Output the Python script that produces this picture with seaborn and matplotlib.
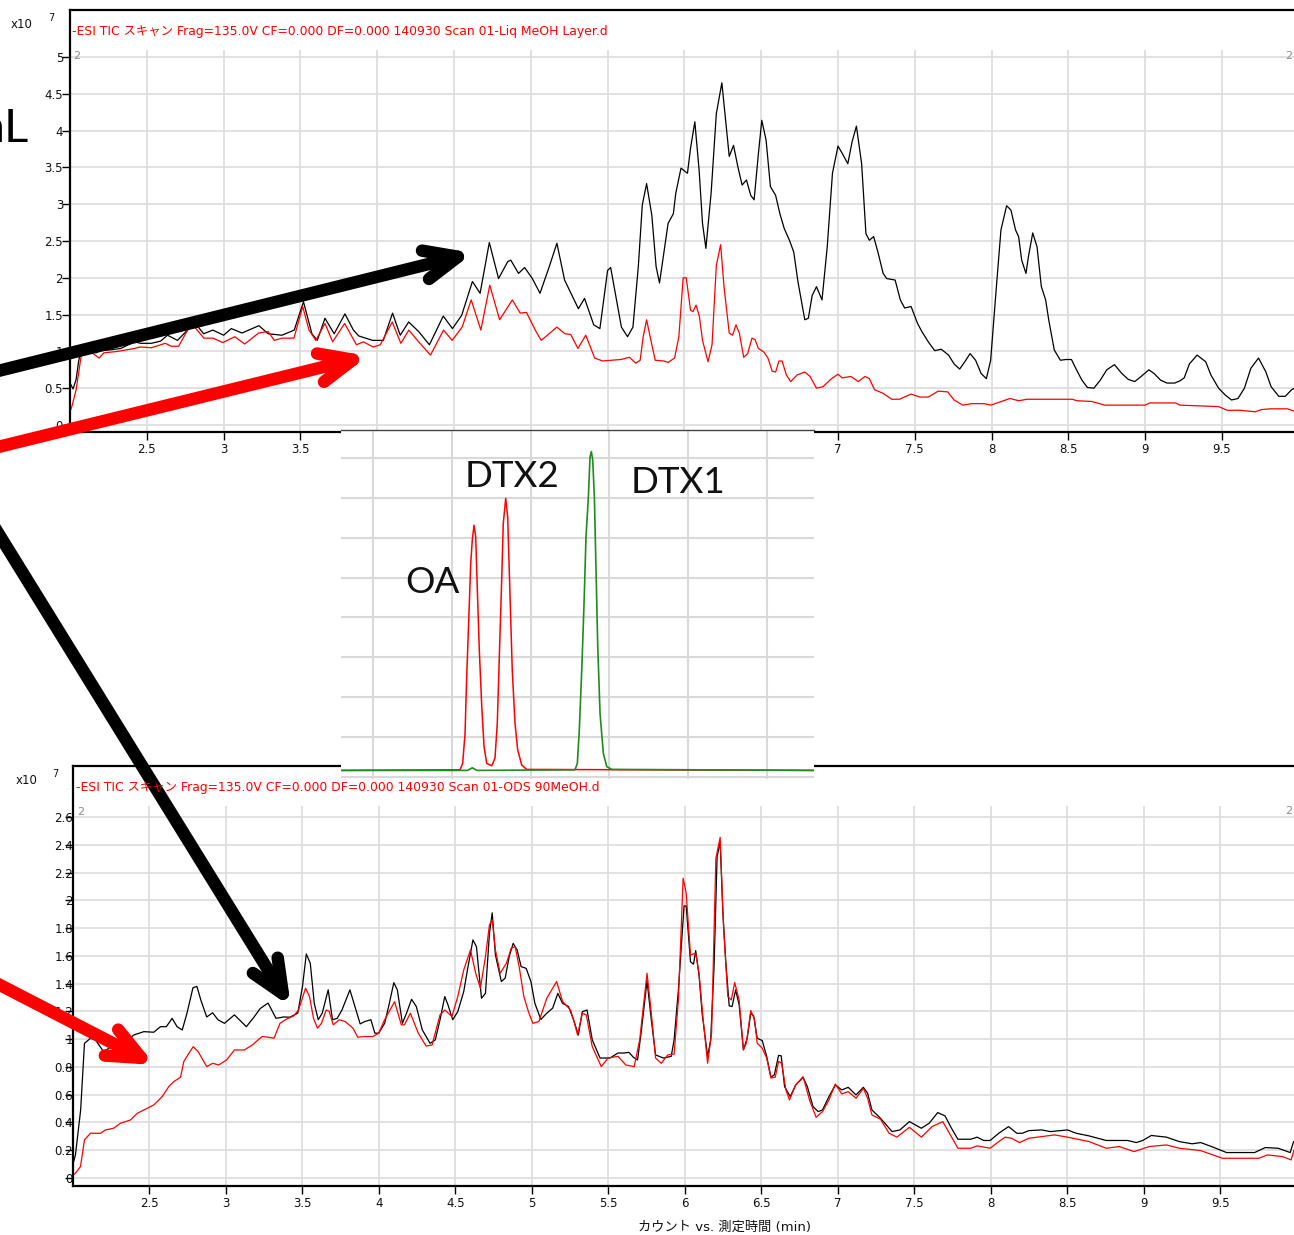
import numpy as np
import pandas as pd
import matplotlib
matplotlib.use("Agg")
import matplotlib.pyplot as plt
from matplotlib.patches import FancyArrowPatch, ArrowStyle
import seaborn as sns

# ---------------- data ----------------
x_ticks = [2.5, 3, 3.5, 4, 4.5, 5, 5.5, 6, 6.5, 7, 7.5, 8, 8.5, 9, 9.5]
x_tick_labels = ["2.5", "3", "3.5", "4", "4.5", "5", "5.5", "6", "6.5", "7", "7.5", "8", "8.5", "9", "9.5"]

liq_yticks = [0, 0.5, 1, 1.5, 2, 2.5, 3, 3.5, 4, 4.5, 5]
liq_ylabels = ["0", "0.5", "1", "1.5", "2", "2.5", "3", "3.5", "4", "4.5", "5"]
ods_yticks = [0, 0.2, 0.4, 0.6, 0.8, 1.0, 1.2, 1.4, 1.6, 1.8, 2.0, 2.2, 2.4, 2.6]
ods_ylabels = ["0", "0.2", "0.4", "0.6", "0.8", "1", "1.2", "1.4", "1.6", "1.8", "2", "2.2", "2.4", "2.6"]

liq_title = "-ESI TIC スキャン Frag=135.0V CF=0.000 DF=0.000 140930 Scan 01-Liq MeOH Layer.d"
ods_title = "-ESI TIC スキャン Frag=135.0V CF=0.000 DF=0.000 140930 Scan 01-ODS 90MeOH.d"
x_axis_label = "カウント vs. 測定時間 (min)"

# Liq MeOH layer, TIC (x10^7 counts)
liq_black_time = [2.0, 2.005, 2.02, 2.04, 2.055, 2.07, 2.13, 2.17, 2.19, 2.26, 2.33, 2.42, 2.46, 2.53, 2.59,
                  2.635, 2.70, 2.765, 2.79, 2.87, 2.93, 3.0, 3.05, 3.12, 3.23, 3.29, 3.38, 3.46, 3.52, 3.575,
                  3.61, 3.66, 3.72, 3.79, 3.845, 3.88, 3.97, 4.04, 4.10, 4.15, 4.205, 4.27, 4.34, 4.43, 4.49,
                  4.55, 4.62, 4.67, 4.73, 4.79, 4.85, 4.87, 4.92, 4.96, 5.01, 5.06, 5.12, 5.17, 5.22, 5.31,
                  5.35, 5.41, 5.45, 5.50, 5.52, 5.59, 5.63, 5.665, 5.70, 5.726, 5.754, 5.788, 5.816, 5.838,
                  5.866, 5.894, 5.928, 5.944, 5.978, 6.02, 6.04, 6.068, 6.096, 6.118, 6.14, 6.174, 6.208,
                  6.244, 6.266, 6.292, 6.32, 6.348, 6.376, 6.404, 6.432, 6.454, 6.482, 6.504, 6.532, 6.56,
                  6.594, 6.622, 6.65, 6.684, 6.712, 6.74, 6.784, 6.807, 6.832, 6.86, 6.896, 6.93, 6.964,
                  7.0, 7.028, 7.064, 7.092, 7.12, 7.154, 7.182, 7.204, 7.232, 7.26, 7.294, 7.317, 7.372,
                  7.406, 7.434, 7.476, 7.518, 7.546, 7.588, 7.63, 7.672, 7.72, 7.756, 7.792, 7.826, 7.86,
                  7.896, 7.932, 7.966, 7.994, 8.028, 8.061, 8.098, 8.126, 8.156, 8.176, 8.196, 8.224, 8.24,
                  8.268, 8.296, 8.324, 8.352, 8.372, 8.408, 8.448, 8.484, 8.52, 8.548, 8.588, 8.624, 8.666,
                  8.708, 8.75, 8.80, 8.848, 8.89, 8.932, 8.974, 9.024, 9.058, 9.10, 9.142, 9.192, 9.226,
                  9.254, 9.288, 9.338, 9.394, 9.428, 9.478, 9.52, 9.562, 9.604, 9.646, 9.688, 9.738, 9.786,
                  9.82, 9.87, 9.912, 9.954, 9.98]
liq_black_tic = [0.57, 0.55, 0.49, 0.62, 0.85, 1.02, 1.02, 0.98, 1.01, 1.02, 1.04, 1.13, 1.11, 1.11, 1.14,
                 1.22, 1.15, 1.29, 1.45, 1.24, 1.29, 1.22, 1.31, 1.25, 1.35, 1.24, 1.22, 1.29, 1.675, 1.24,
                 1.15, 1.45, 1.24, 1.51, 1.29, 1.21, 1.15, 1.15, 1.52, 1.22, 1.40, 1.27, 1.09, 1.48, 1.31,
                 1.49, 1.95, 1.79, 2.48, 1.99, 2.22, 2.24, 2.06, 2.14, 1.99, 1.79, 2.15, 2.47, 1.97, 1.58,
                 1.72, 1.36, 1.31, 2.10, 2.14, 1.33, 1.20, 1.33, 2.15, 2.99, 3.28, 2.85, 2.15, 1.93,
                 2.33, 2.74, 2.87, 3.15, 3.49, 3.42, 3.76, 4.12, 3.46, 2.74, 2.40, 3.15, 4.23,
                 4.65, 4.19, 3.65, 3.80, 3.51, 3.26, 3.33, 3.12, 3.06, 3.69, 4.14, 3.87, 3.24,
                 3.12, 2.87, 2.67, 2.51, 2.35, 1.94, 1.43, 1.45, 1.76, 1.88, 1.70, 2.42, 3.42,
                 3.79, 3.69, 3.55, 3.85, 4.06, 3.55, 2.60, 2.51, 2.56, 2.35, 2.06, 1.99, 1.97,
                 1.70, 1.59, 1.61, 1.38, 1.27, 1.13, 1.01, 1.03, 0.95, 0.83, 0.76, 0.86, 0.97,
                 0.88, 0.70, 0.63, 0.88, 1.79, 2.65, 2.98, 2.92, 2.65, 2.56, 2.24, 2.06, 2.29,
                 2.61, 2.42, 1.88, 1.70, 1.43, 1.02, 0.88, 0.89, 0.89, 0.77, 0.61, 0.51, 0.50,
                 0.61, 0.75, 0.82, 0.70, 0.62, 0.59, 0.66, 0.75, 0.70, 0.61, 0.57, 0.57, 0.60,
                 0.64, 0.83, 0.95, 0.86, 0.68, 0.50, 0.41, 0.34, 0.36, 0.50, 0.77, 0.91, 0.72,
                 0.52, 0.39, 0.39, 0.48, 0.51]

liq_red_time = [2.0, 2.012, 2.04, 2.077, 2.13, 2.19, 2.22, 2.31, 2.42, 2.455, 2.53, 2.62, 2.66, 2.707, 2.79,
                2.828, 2.872, 2.931, 2.995, 3.073, 3.137, 3.228, 3.29, 3.33, 3.38, 3.458, 3.515, 3.556, 3.60,
                3.66, 3.71, 3.788, 3.865, 3.91, 3.974, 4.02, 4.098, 4.154, 4.206, 4.27, 4.347, 4.432, 4.488,
                4.553, 4.612, 4.675, 4.733, 4.797, 4.88, 4.931, 4.972, 5.029, 5.068, 5.17, 5.222, 5.26,
                5.307, 5.358, 5.416, 5.467, 5.53, 5.586, 5.642, 5.684, 5.712, 5.732, 5.754, 5.782, 5.81,
                5.866, 5.894, 5.936, 5.964, 5.992, 6.012, 6.04, 6.056, 6.076, 6.098, 6.118, 6.154, 6.18,
                6.208, 6.236, 6.258, 6.292, 6.314, 6.336, 6.358, 6.386, 6.412, 6.44, 6.46, 6.482, 6.518,
                6.544, 6.572, 6.594, 6.616, 6.636, 6.664, 6.692, 6.734, 6.784, 6.818, 6.86, 6.902, 6.958,
                7.0, 7.028, 7.084, 7.132, 7.176, 7.204, 7.238, 7.294, 7.35, 7.40, 7.476, 7.532, 7.588,
                7.652, 7.714, 7.756, 7.812, 7.868, 7.952, 7.994, 8.05, 8.12, 8.176, 8.232, 8.526, 8.554,
                8.652, 8.736, 9.0, 9.03, 9.198, 9.226, 9.478, 9.534, 9.618, 9.716, 9.758, 9.814, 9.926, 9.98]
liq_red_tic = [0.18, 0.25, 0.48, 1.0, 1.0, 0.91, 0.98, 1.0, 1.04, 1.06, 1.05, 1.11, 1.07, 1.07, 1.38,
               1.29, 1.18, 1.18, 1.12, 1.20, 1.10, 1.25, 1.27, 1.15, 1.18, 1.18, 1.61, 1.29, 1.15,
               1.38, 1.13, 1.38, 1.09, 1.13, 1.06, 1.09, 1.40, 1.11, 1.29, 1.13, 0.95, 1.29, 1.15,
               1.33, 1.70, 1.29, 1.90, 1.43, 1.70, 1.52, 1.53, 1.29, 1.15, 1.33, 1.24, 1.23,
               1.04, 1.22, 0.91, 0.87, 0.88, 0.89, 0.92, 0.84, 0.88, 1.20, 1.43, 1.15, 0.88,
               0.87, 0.85, 0.91, 1.20, 2.00, 2.00, 1.56, 1.54, 1.63, 1.47, 1.15, 0.86, 1.09,
               2.17, 2.45, 1.88, 1.25, 1.22, 1.36, 1.25, 0.92, 0.97, 1.18, 1.16, 1.04, 0.99,
               0.91, 0.73, 0.72, 0.87, 0.87, 0.68, 0.59, 0.68, 0.72, 0.66, 0.50, 0.52, 0.63,
               0.69, 0.64, 0.66, 0.59, 0.66, 0.63, 0.48, 0.43, 0.35, 0.35, 0.42, 0.38, 0.38,
               0.46, 0.45, 0.34, 0.27, 0.29, 0.29, 0.27, 0.31, 0.36, 0.33, 0.35, 0.35, 0.33,
               0.32, 0.27, 0.27, 0.30, 0.30, 0.27, 0.25, 0.20, 0.20, 0.18, 0.21, 0.22, 0.22, 0.18]

# ODS 90% MeOH fraction, TIC (x10^7 counts)
ods_black_time = [2.0, 2.016, 2.05, 2.075, 2.114, 2.147, 2.20, 2.234, 2.278, 2.354, 2.397, 2.463, 2.528, 2.572,
                  2.61, 2.648, 2.68, 2.714, 2.745, 2.784, 2.81, 2.836, 2.874, 2.913, 2.947, 2.99, 3.055, 3.133,
                  3.184, 3.223, 3.275, 3.327, 3.378, 3.417, 3.469, 3.50, 3.525, 3.551, 3.577, 3.603, 3.629,
                  3.668, 3.696, 3.727, 3.758, 3.81, 3.843, 3.877, 3.908, 3.947, 3.973, 3.998, 4.037, 4.063,
                  4.097, 4.12, 4.153, 4.18, 4.213, 4.244, 4.283, 4.334, 4.368, 4.399, 4.43, 4.451, 4.482,
                  4.515, 4.554, 4.58, 4.614, 4.637, 4.67, 4.696, 4.722, 4.74, 4.761, 4.80, 4.825, 4.851,
                  4.877, 4.903, 4.929, 4.962, 4.993, 5.019, 5.058, 5.097, 5.135, 5.169, 5.2, 5.239, 5.272,
                  5.303, 5.329, 5.36, 5.394, 5.445, 5.51, 5.562, 5.6, 5.634, 5.662, 5.69, 5.713, 5.752,
                  5.78, 5.808, 5.859, 5.91, 5.929, 5.957, 5.994, 6.008, 6.036, 6.056, 6.07, 6.092, 6.112,
                  6.148, 6.168, 6.19, 6.21, 6.23, 6.247, 6.266, 6.289, 6.308, 6.331, 6.354, 6.382, 6.407,
                  6.43, 6.449, 6.472, 6.505, 6.534, 6.562, 6.584, 6.612, 6.629, 6.651, 6.688, 6.724, 6.772,
                  6.8, 6.837, 6.871, 6.899, 6.941, 6.983, 7.025, 7.067, 7.118, 7.166, 7.194, 7.222, 7.278,
                  7.354, 7.405, 7.467, 7.545, 7.596, 7.652, 7.7, 7.742, 7.784, 7.868, 7.91, 7.952, 7.995,
                  8.051, 8.115, 8.169, 8.205, 8.248, 8.332, 8.388, 8.5, 8.557, 8.641, 8.753, 8.894, 8.95,
                  8.992, 9.048, 9.147, 9.231, 9.315, 9.371, 9.442, 9.54, 9.723, 9.793, 9.877, 9.956, 9.978]
ods_black_tic = [0.10, 0.166, 0.49, 0.97, 1.006, 0.994, 0.91, 0.934, 0.99, 0.99, 1.03, 1.054, 1.05, 1.09,
                 1.09, 1.15, 1.09, 1.066, 1.187, 1.37, 1.38, 1.28, 1.16, 1.19, 1.14, 1.114, 1.175, 1.09,
                 1.16, 1.22, 1.26, 1.15, 1.16, 1.158, 1.187, 1.38, 1.614, 1.546, 1.258, 1.14, 1.187,
                 1.355, 1.14, 1.15, 1.21, 1.355, 1.235, 1.11, 1.127, 1.14, 1.043, 1.043, 1.114, 1.235,
                 1.407, 1.355, 1.114, 1.187, 1.287, 1.235, 1.067, 0.97, 0.995, 1.14, 1.307, 1.247, 1.14,
                 1.198, 1.343, 1.51, 1.715, 1.667, 1.295, 1.33, 1.763, 1.91, 1.607, 1.415, 1.44, 1.595,
                 1.69, 1.643, 1.523, 1.51, 1.415, 1.258, 1.142, 1.187, 1.223, 1.33, 1.258, 1.235, 1.14,
                 1.03, 1.198, 1.21, 0.995, 0.864, 0.864, 0.9, 0.9, 0.905, 0.87, 0.85, 1.043, 1.42,
                 1.14, 0.886, 0.864, 0.876, 0.995, 1.355, 1.96, 1.96, 1.558, 1.54, 1.638, 1.46, 1.187,
                 0.876, 0.995, 1.52, 2.315, 2.42, 1.93, 1.57, 1.24, 1.235, 1.355, 1.247, 0.923, 1.007,
                 1.187, 1.168, 1.007, 0.99, 0.876, 0.726, 0.743, 0.883, 0.88, 0.658, 0.586, 0.67, 0.724,
                 0.658, 0.514, 0.478, 0.49, 0.586, 0.67, 0.634, 0.653, 0.598, 0.653, 0.61, 0.49, 0.43,
                 0.334, 0.346, 0.406, 0.358, 0.394, 0.471, 0.447, 0.358, 0.279, 0.279, 0.294, 0.27, 0.27,
                 0.322, 0.37, 0.322, 0.322, 0.341, 0.346, 0.334, 0.346, 0.322, 0.303, 0.27, 0.27, 0.255,
                 0.27, 0.306, 0.294, 0.262, 0.246, 0.255, 0.226, 0.183, 0.183, 0.219, 0.214, 0.183, 0.262]

ods_red_time = [2.0, 2.016, 2.049, 2.075, 2.114, 2.18, 2.212, 2.265, 2.31, 2.376, 2.42, 2.485, 2.528, 2.583,
                2.626, 2.659, 2.703, 2.724, 2.757, 2.786, 2.818, 2.874, 2.913, 2.952, 3.004, 3.055, 3.12,
                3.172, 3.236, 3.275, 3.314, 3.353, 3.391, 3.443, 3.474, 3.52, 3.546, 3.572, 3.598, 3.624,
                3.655, 3.675, 3.701, 3.74, 3.779, 3.83, 3.861, 3.908, 3.96, 3.998, 4.037, 4.102, 4.146,
                4.166, 4.205, 4.257, 4.308, 4.347, 4.399, 4.43, 4.477, 4.515, 4.554, 4.598, 4.632, 4.663,
                4.696, 4.722, 4.74, 4.761, 4.792, 4.833, 4.864, 4.89, 4.916, 4.947, 4.98, 5.006, 5.045,
                5.097, 5.161, 5.2, 5.252, 5.278, 5.298, 5.329, 5.355, 5.394, 5.453, 5.497, 5.562, 5.613,
                5.668, 5.704, 5.752, 5.78, 5.808, 5.845, 5.887, 5.929, 5.957, 5.988, 6.008, 6.036, 6.07,
                6.092, 6.117, 6.148, 6.174, 6.202, 6.23, 6.252, 6.28, 6.303, 6.325, 6.354, 6.382, 6.401,
                6.43, 6.455, 6.472, 6.505, 6.534, 6.562, 6.59, 6.612, 6.632, 6.66, 6.683, 6.724, 6.772,
                6.814, 6.857, 6.899, 6.941, 6.983, 7.025, 7.067, 7.118, 7.166, 7.194, 7.222, 7.278, 7.334,
                7.385, 7.467, 7.545, 7.615, 7.685, 7.728, 7.784, 7.868, 7.91, 7.995, 8.051, 8.093, 8.135,
                8.186, 8.248, 8.304, 8.416, 8.5, 8.641, 8.753, 8.838, 8.936, 9.034, 9.147, 9.231, 9.371,
                9.512, 9.751, 9.807, 9.905, 9.962, 9.981]
ods_red_tic = [0.02, 0.034, 0.082, 0.274, 0.322, 0.322, 0.346, 0.358, 0.394, 0.418, 0.466, 0.502, 0.526, 0.586,
               0.658, 0.694, 0.726, 0.838, 0.898, 0.946, 0.91, 0.802, 0.826, 0.814, 0.85, 0.922, 0.922,
               0.958, 1.019, 1.014, 1.007, 1.114, 1.142, 1.168, 1.21, 1.367, 1.307, 1.15, 1.079, 1.114,
               1.21, 1.2, 1.103, 1.14, 1.127, 1.079, 1.014, 1.019, 1.019, 1.043, 1.14, 1.27, 1.103,
               1.103, 1.187, 1.043, 0.95, 0.958, 1.175, 1.21, 1.163, 1.307, 1.499, 1.643, 1.475, 1.367,
               1.595, 1.823, 1.86, 1.643, 1.475, 1.547, 1.655, 1.667, 1.523, 1.307, 1.187, 1.114, 1.127,
               1.295, 1.415, 1.271, 1.21, 1.114, 1.03, 1.187, 1.175, 0.946, 0.802, 0.864, 0.876, 0.814,
               0.802, 0.995, 1.475, 1.187, 0.864, 0.826, 0.886, 0.893, 1.283, 2.159, 2.051, 1.607, 1.619,
               1.475, 1.163, 0.826, 1.043, 2.303, 2.454, 1.811, 1.307, 1.283, 1.408, 1.283, 0.923, 0.971,
               1.206, 1.14, 0.971, 0.935, 0.864, 0.72, 0.726, 0.84, 0.826, 0.634, 0.562, 0.67, 0.73,
               0.562, 0.437, 0.478, 0.562, 0.677, 0.605, 0.622, 0.574, 0.646, 0.574, 0.454, 0.423, 0.322,
               0.294, 0.365, 0.294, 0.37, 0.406, 0.322, 0.214, 0.214, 0.231, 0.214, 0.262, 0.294, 0.286,
               0.255, 0.286, 0.294, 0.31, 0.294, 0.262, 0.214, 0.226, 0.19, 0.226, 0.238, 0.214, 0.197,
               0.142, 0.142, 0.166, 0.154, 0.13, 0.202]

# standards chromatogram (OA, DTX2 in red; DTX1 in green)
std_red_time = [0.6, 2.104, 2.138, 2.168, 2.189, 2.218, 2.24, 2.26, 2.282, 2.303, 2.324, 2.349, 2.38, 2.409,
                2.443, 2.506, 2.548, 2.577, 2.603, 2.633, 2.653, 2.684, 2.709, 2.738, 2.767, 2.802, 2.836,
                2.887, 2.95, 6.6]
std_red_signal = [0.175, 0.19, 0.35, 1.10, 2.52, 4.10, 5.35, 5.94, 6.31, 6.02, 4.69, 3.19, 1.77, 0.77,
                  0.35, 0.29, 0.48, 1.35, 3.02, 4.94, 6.35, 6.98, 6.52, 4.60, 2.69, 1.35, 0.69,
                  0.31, 0.20, 0.175]
std_green_time = [0.6, 2.2, 2.26, 2.32, 3.563, 3.593, 3.618, 3.649, 3.678, 3.703, 3.733, 3.754, 3.771, 3.788,
                  3.809, 3.83, 3.852, 3.881, 3.923, 3.966, 4.03, 6.6]
std_green_signal = [0.175, 0.175, 0.24, 0.175, 0.19, 0.35, 1.19, 2.69, 4.35, 6.02, 7.02, 8.02, 8.15, 7.94,
                    7.02, 5.19, 3.27, 1.60, 0.60, 0.27, 0.20, 0.175]
std_peak_names = ["OA", "DTX2", "DTX1"]
std_peak_label_pos = [(1.749, 4.61), (2.764, 7.26), (4.871, 7.11)]

# ---------------- layout helpers ----------------
W, H = 1294, 1235
GRID = "#dedede"


def box(left, top, right, bottom):
    return [left / W, 1 - bottom / H, (right - left) / W, (bottom - top) / H]


sns.set_style("white")
plt.rcParams["font.family"] = ["DejaVu Sans", "Noto Sans CJK JP"]
plt.rcParams["axes.linewidth"] = 1.6

fig = plt.figure(figsize=(W / 100, H / 100), dpi=100)


def draw_tic(ax, t_black, y_black, t_red, y_red):
    sns.lineplot(data=pd.DataFrame({"t": t_black, "v": y_black}), x="t", y="v", ax=ax,
                 color="black", lw=0.9, estimator=None, sort=False, legend=False)
    sns.lineplot(data=pd.DataFrame({"t": t_red, "v": y_red}), x="t", y="v", ax=ax,
                 color="#ff0000", lw=0.9, estimator=None, sort=False, legend=False)


def style_chart(ax, xlim, ylim, yticks, ylabels, grid_top, ypad):
    ax.set_xlim(*xlim)
    ax.set_ylim(*ylim)
    ax.set_xticks(x_ticks)
    ax.set_xticklabels(x_tick_labels)
    ax.set_yticks(yticks)
    ax.set_yticklabels(ylabels)
    ax.set_xlabel("")
    ax.set_ylabel("")
    ax.set_axisbelow(True)
    ax.grid(axis="y", color=GRID, lw=1.3)
    ax.grid(axis="x", visible=False)
    ax.vlines(x_ticks, ylim[0], grid_top, color=GRID, lw=1.3, zorder=0)
    ax.spines["right"].set_visible(False)
    for s in ("left", "top", "bottom"):
        ax.spines[s].set_color("black")
        ax.spines[s].set_linewidth(1.6)
    ax.tick_params(axis="both", which="major", direction="out", length=6, width=1,
                   color="black", labelsize=8.5, labelcolor="#111111", left=True, bottom=True)
    ax.tick_params(axis="y", pad=ypad)
    ax.tick_params(axis="x", pad=2)


# upper chromatogram: Liq MeOH layer
ax_liq = fig.add_axes(box(70, 10, 1300, 432))
draw_tic(ax_liq, liq_black_time, liq_black_tic, liq_red_time, liq_red_tic)
style_chart(ax_liq, (2.0, 10.008), (-0.095, 5.639), liq_yticks, liq_ylabels, 5.095, -1)

# lower chromatogram: ODS 90% MeOH
ax_ods = fig.add_axes(box(73, 766, 1300, 1186))
draw_tic(ax_ods, ods_black_time, ods_black_tic, ods_red_time, ods_red_tic)
style_chart(ax_ods, (2.0, 10.02), (-0.058, 2.968), ods_yticks, ods_ylabels, 2.68, -6)

# standards chromatogram pasted between the two
ax_std = fig.add_axes(box(341, 430, 814, 779))
ax_std.set_facecolor("white")
sns.lineplot(data=pd.DataFrame({"t": std_red_time, "v": std_red_signal}), x="t", y="v", ax=ax_std,
             color="#ff0000", lw=1.1, estimator=None, sort=False, legend=False)
sns.lineplot(data=pd.DataFrame({"t": std_green_time, "v": std_green_signal}), x="t", y="v", ax=ax_std,
             color="#1f8c1f", lw=1.2, estimator=None, sort=False, legend=False)
ax_std.set_xlim(0.594, 6.596)
ax_std.set_ylim(-0.04, 8.69)
ax_std.set_xticks([1, 2, 3, 4, 5, 6])
ax_std.set_yticks([0, 1, 2, 3, 4, 5, 6, 7, 8])
ax_std.set_xticklabels([])
ax_std.set_yticklabels([])
ax_std.set_xlabel("")
ax_std.set_ylabel("")
ax_std.tick_params(left=False, bottom=False, length=0)
ax_std.set_axisbelow(True)
ax_std.grid(True, color="#d9d9d9", lw=1.5)
for s in ("left", "right", "bottom"):
    ax_std.spines[s].set_visible(False)
ax_std.spines["top"].set_color("#444444")
ax_std.spines["top"].set_linewidth(1.0)
for name, (px, py) in zip(std_peak_names, std_peak_label_pos):
    ax_std.text(px, py, name, ha="center", va="baseline", fontsize=26.5,
                family=["Lato", "DejaVu Sans"], color="#111111")

# overlay for annotations, titles and arrows (pixel coordinates)
ov = fig.add_axes([0, 0, 1, 1])
ov.set_xlim(0, W)
ov.set_ylim(H, 0)
ov.axis("off")
ov.patch.set_alpha(0)

ov.text(72, 32, liq_title, color="#ff0000", fontsize=8.9, ha="left", va="center")
ov.text(76, 788, ods_title, color="#ff0000", fontsize=8.9, ha="left", va="center")
ov.text(725, 1227, x_axis_label, fontsize=9.5, ha="center", va="center", color="#111111")

for (x, y), (ex, ey) in [((22, 24), (51, 18)), ((27, 780), (55, 774))]:
    ov.text(x, y, "x10", fontsize=8.5, ha="center", va="center", color="#111111")
    ov.text(ex, ey, "7", fontsize=7, ha="center", va="center", color="#111111")

for x, y, ha in [(73, 56, "left"), (1292, 56, "right"), (77, 812, "left"), (1292, 811, "right")]:
    ov.text(x, y, "2", fontsize=8, color="#8c8c8c", ha=ha, va="center")

ov.text(29, 142, "mL", fontsize=34, ha="right", va="baseline", family=["Lato", "DejaVu Sans"],
        color="black")

head = ArrowStyle("->", head_length=24, head_width=10.5)
arrows = [
    ((-2, 371), (473, 253), "black"),
    ((-2, 447), (368, 356), "#ff0000"),
    ((-5, 528), (291, 1007), "black"),
    ((-2, 984), (155, 1065), "#ff0000"),
]
for start, tip, col in arrows:
    ov.add_patch(FancyArrowPatch(posA=start, posB=tip, arrowstyle=head, mutation_scale=1,
                                 lw=9, color=col, capstyle="round", joinstyle="round",
                                 shrinkA=0, shrinkB=0, clip_on=False))

fig.savefig("out.png", dpi=100)
